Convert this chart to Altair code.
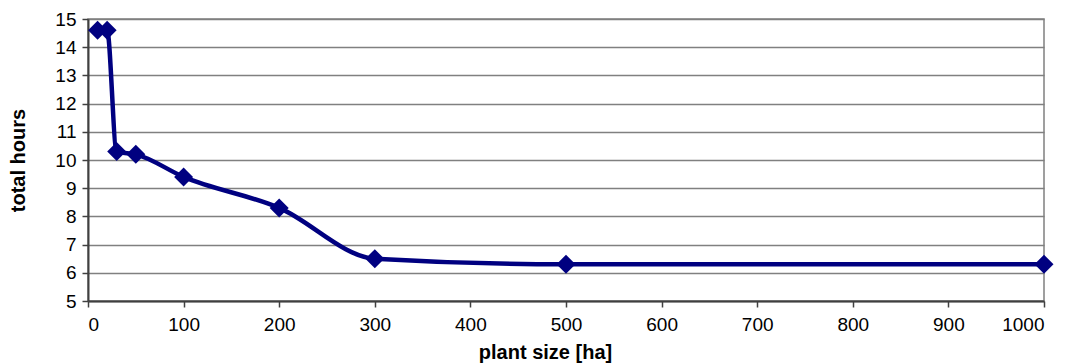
import altair as alt
import pandas as pd

plant_size = [10, 20, 30, 50, 100, 200, 300, 500, 1000]
total_hours = [14.6, 14.6, 10.3, 10.2, 9.4, 8.3, 6.5, 6.3, 6.3]

df = pd.DataFrame({"size": plant_size, "hours": total_hours})

W, H = 956, 282

x = alt.X("size:Q",
          scale=alt.Scale(domain=[0, 1000], nice=False),
          axis=alt.Axis(values=list(range(0, 1001, 100)), grid=False, format="d",
                        title="plant size [ha]", titleX=457, titleY=51,
                        titleBaseline="middle", titleAnchor="middle", titleAlign="center"))
y = alt.Y("hours:Q",
          scale=alt.Scale(domain=[5, 15], nice=False, zero=False),
          axis=alt.Axis(values=list(range(5, 16)), grid=True, format="d",
                        title="total hours", titleX=-70, titleY=H / 2,
                        titleBaseline="middle", titleAlign="center", titleAngle=270))

line = alt.Chart(df).mark_line(color="#000080", strokeWidth=4.5, interpolate="monotone").encode(x=x, y=y)
pts = alt.Chart(df).mark_point(shape="diamond", filled=True, color="#000080", size=360, opacity=1).encode(x=x, y=y)

chart = (line + pts).properties(
    width=W, height=H,
    autosize=alt.AutoSizeParams(type="none"),
    padding={"left": 88, "top": 19, "right": 25, "bottom": 62},
).configure_view(
    stroke="#808080", strokeWidth=1.5
).configure_axis(
    labelFont="Liberation Sans", labelFontSize=19, labelColor="#000000",
    titleFont="Liberation Sans", titleFontSize=20, titleFontWeight="bold", titleColor="#000000",
    domainColor="#404040", domainWidth=2, tickColor="#404040", tickWidth=1.5, tickSize=6,
    gridColor="#808080", gridWidth=1.5,
).configure_axisX(labelPadding=8).configure_axisY(labelPadding=6)

chart.save("out.html", embed_options={"renderer": "svg", "actions": False})
